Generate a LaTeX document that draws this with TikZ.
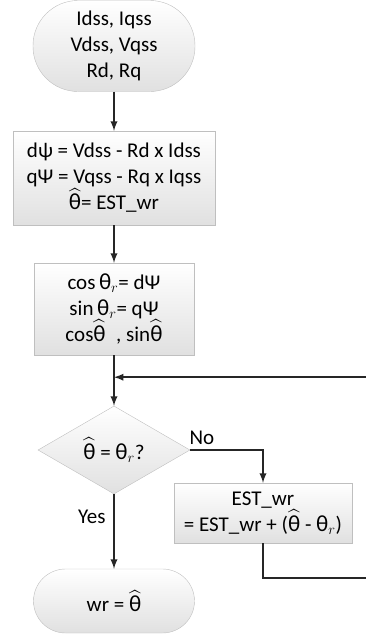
\documentclass[tikz,border=0pt]{standalone}
\usepackage{amsmath}
\usepackage{fontspec}
\setmainfont{Carlito}
\usetikzlibrary{shapes.geometric}
\usetikzlibrary{positioning}

\newcommand{\thhat}{\ensuremath{\widehat{\text{\fontsize{23}{23}\selectfont θ}}}}
\newcommand{\thr}{\ensuremath{\text{\fontsize{23}{23}\selectfont θ}_{r}}}

\begin{document}
\begin{tikzpicture}[
    >=latex,
    every node/.style={font=\fontsize{21}{26}\selectfont, align=center},
    flowbox/.style={draw=black!25, top color=white, bottom color=black!12, inner sep=2pt},
    termbox/.style={flowbox, minimum width=162pt},
    flowline/.style={draw=black!85, line width=2.2pt}
  ]

  \useasboundingbox (0,0) rectangle (366pt,-635pt);

  % Flowchart steps
  \node[termbox, minimum height=91pt, rounded corners=45pt] at (114pt,-46pt) (start) {Idss, Iqss\\Vdss, Vqss\\Rd, Rq};
  \node[flowbox, minimum width=202pt, minimum height=94pt, below of=start, node distance=132pt] (flux)
    {dψ = Vdss - Rd x Idss\\qΨ = Vqss - Rq x Iqss\\\thhat{}= EST\_wr};
  \node[flowbox, minimum width=160pt, minimum height=92pt, below of=flux, node distance=131pt] (trig)
    {cos\,\thr{}= dΨ\\sin\,\thr{}= qΨ\\cos\thhat{}\enspace, sin\thhat};
  \node[flowbox, shape=diamond, aspect=1.7, inner sep=0pt, minimum width=152pt, minimum height=88pt,
    below of=trig, node distance=141pt] (check) {\thhat{} = \thr{}?};
  \node[flowbox, minimum width=178pt, minimum height=60pt, right of=check, node distance=149pt, yshift=-63pt] (update)
    {EST\_wr\\= EST\_wr + (\thhat{} - \thr{})};
  \node[termbox, minimum width=161pt, minimum height=64pt, rounded corners=32pt,
    below of=check, node distance=151pt] (result) {wr = \thhat};

  % Hidden points for the feedback loop
  \coordinate[below=22pt of trig.south] (join);
  \coordinate[right=254pt of join] (loopr);

  % Main flow
  \path[flowline,->] (start) to (flux);
  \path[flowline,->] (flux) to (trig);
  \path[flowline,->] (trig) to (check);
  \path[flowline,->] (check) to node[pos=.3, left=4pt] (yes) {Yes} (result);
  \path[flowline,->] (check.east) -| node[pos=.08, above=1pt] (no) {No} (update.north);

  % Feedback loop
  \path[flowline,->] (update.south) -- ++(0,-35pt) -| (loopr) -- (join);

\end{tikzpicture}
\end{document}
